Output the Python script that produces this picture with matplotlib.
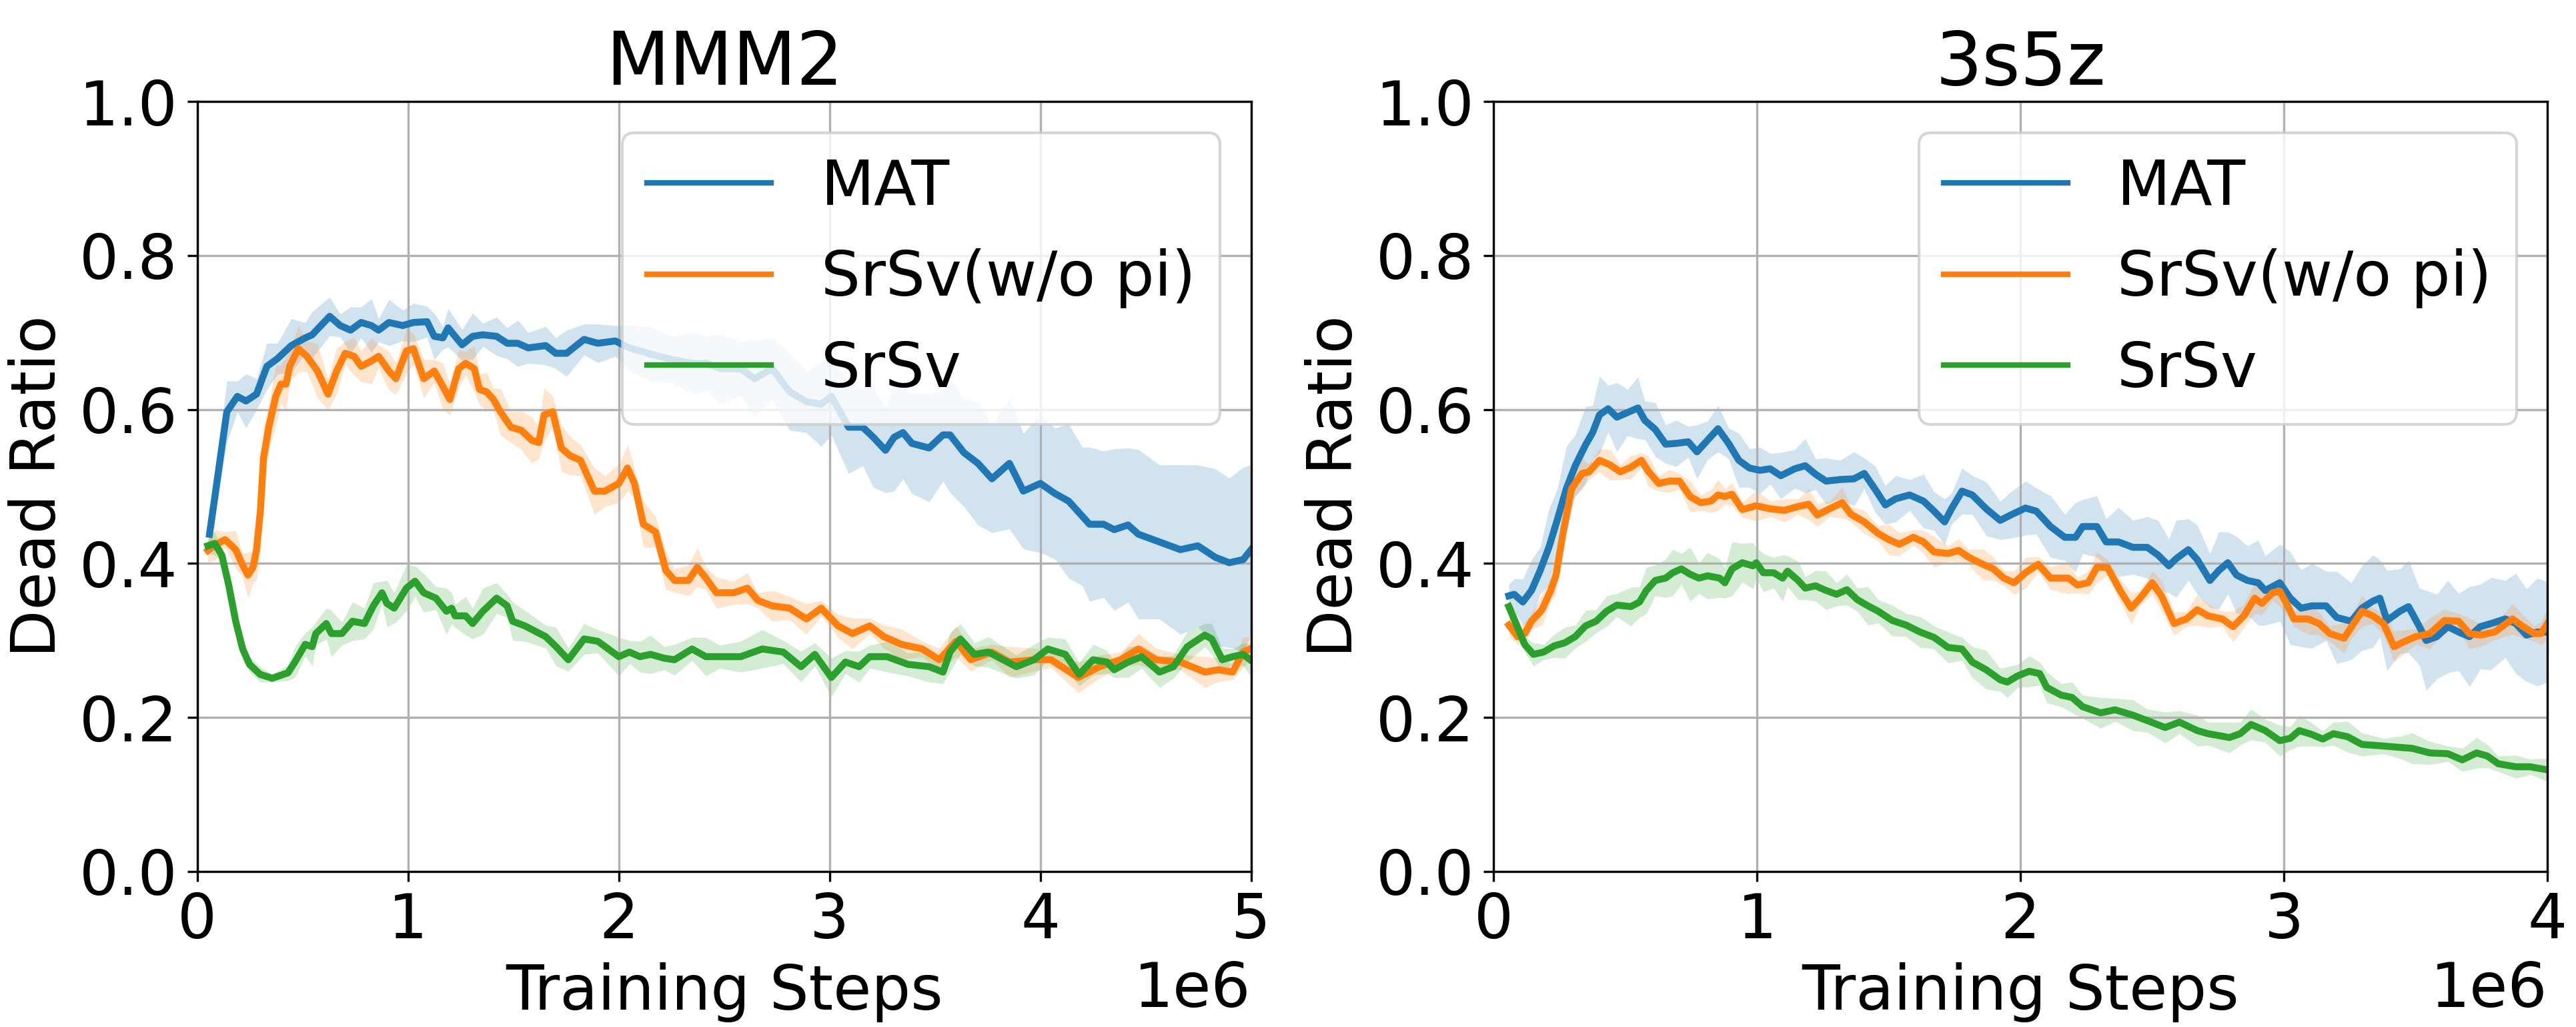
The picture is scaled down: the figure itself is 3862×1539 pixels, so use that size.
import numpy as np
import matplotlib
matplotlib.use("Agg")
import matplotlib.pyplot as plt

# ---- MMM2 (steps in millions) ----
mmm2_mat_x = [0.058, 0.14, 0.19, 0.231, 0.281, 0.33, 0.38, 0.446, 0.512, 0.545,
              0.628, 0.678, 0.727, 0.777, 0.826, 0.86, 0.909, 0.975, 1.025, 1.09,
              1.124, 1.165, 1.19, 1.256, 1.306, 1.355, 1.42, 1.47, 1.52, 1.57,
              1.653, 1.70, 1.752, 1.835, 1.90, 1.983, 2.05, 2.15, 2.25, 2.35,
              2.42, 2.478, 2.578, 2.644, 2.727, 2.81, 2.89, 2.96, 3.008, 3.09,
              3.157, 3.207, 3.265, 3.306, 3.348, 3.39, 3.472, 3.538, 3.571, 3.637,
              3.704, 3.77, 3.853, 3.919, 4.0, 4.068, 4.134, 4.2, 4.233, 4.3,
              4.35, 4.416, 4.465, 4.565, 4.664, 4.747, 4.83, 4.896, 4.962, 5.0]
mmm2_mat_y = [0.438, 0.597, 0.617, 0.611, 0.62, 0.656, 0.666, 0.683, 0.693, 0.697,
              0.721, 0.709, 0.703, 0.713, 0.709, 0.703, 0.713, 0.709, 0.713, 0.714,
              0.695, 0.693, 0.706, 0.684, 0.695, 0.697, 0.695, 0.686, 0.686, 0.68,
              0.683, 0.673, 0.673, 0.691, 0.686, 0.689, 0.68, 0.672, 0.665, 0.66,
              0.66, 0.653, 0.653, 0.64, 0.653, 0.623, 0.61, 0.607, 0.617, 0.577,
              0.577, 0.564, 0.547, 0.564, 0.57, 0.556, 0.55, 0.567, 0.567, 0.544,
              0.53, 0.51, 0.53, 0.494, 0.504, 0.491, 0.481, 0.461, 0.451, 0.451,
              0.444, 0.45, 0.438, 0.428, 0.418, 0.423, 0.408, 0.401, 0.405, 0.418]
mmm2_mat_sd = [0.02, 0.04, 0.02, 0.035, 0.02, 0.03, 0.02, 0.035, 0.02, 0.03,
               0.025, 0.015, 0.03, 0.02, 0.035, 0.015, 0.03, 0.02, 0.025, 0.02,
               0.03, 0.015, 0.025, 0.02, 0.03, 0.015, 0.025, 0.02, 0.03, 0.02,
               0.025, 0.02, 0.03, 0.02, 0.025, 0.02, 0.03, 0.035, 0.03, 0.04,
               0.035, 0.045, 0.035, 0.05, 0.04, 0.05, 0.04, 0.055, 0.05, 0.06,
               0.05, 0.065, 0.055, 0.07, 0.06, 0.065, 0.07, 0.06, 0.075, 0.07,
               0.08, 0.07, 0.085, 0.075, 0.09, 0.085, 0.1, 0.09, 0.1, 0.095,
               0.105, 0.1, 0.11, 0.1, 0.11, 0.105, 0.115, 0.11, 0.12, 0.11]

mmm2_nopi_x = [0.05, 0.083, 0.132, 0.182, 0.215, 0.24, 0.264, 0.281, 0.3, 0.314,
               0.339, 0.372, 0.397, 0.421, 0.438, 0.479, 0.52, 0.57, 0.62, 0.661,
               0.702, 0.744, 0.777, 0.826, 0.86, 0.909, 0.942, 0.992, 1.025, 1.074,
               1.124, 1.165, 1.198, 1.24, 1.273, 1.314, 1.339, 1.372, 1.405, 1.438,
               1.488, 1.537, 1.587, 1.62, 1.645, 1.686, 1.727, 1.769, 1.818, 1.884,
               1.934, 2.0, 2.041, 2.074, 2.116, 2.174, 2.223, 2.264, 2.33, 2.372,
               2.413, 2.463, 2.545, 2.61, 2.66, 2.727, 2.81, 2.89, 2.96, 3.04,
               3.108, 3.19, 3.257, 3.34, 3.44, 3.52, 3.6, 3.67, 3.77, 3.853,
               3.969, 4.05, 4.18, 4.28, 4.38, 4.465, 4.548, 4.664, 4.78, 4.846,
               4.912, 4.962, 4.995]
mmm2_nopi_y = [0.417, 0.424, 0.431, 0.418, 0.398, 0.385, 0.395, 0.418, 0.471, 0.537,
               0.577, 0.617, 0.633, 0.633, 0.656, 0.679, 0.669, 0.65, 0.62, 0.65,
               0.673, 0.669, 0.656, 0.663, 0.669, 0.65, 0.64, 0.676, 0.679, 0.64,
               0.65, 0.63, 0.613, 0.653, 0.66, 0.653, 0.626, 0.623, 0.613, 0.597,
               0.577, 0.573, 0.56, 0.557, 0.593, 0.597, 0.55, 0.54, 0.534, 0.494,
               0.494, 0.504, 0.524, 0.504, 0.451, 0.441, 0.391, 0.378, 0.378, 0.395,
               0.381, 0.362, 0.362, 0.368, 0.352, 0.345, 0.342, 0.328, 0.342, 0.319,
               0.309, 0.319, 0.305, 0.295, 0.289, 0.275, 0.299, 0.275, 0.285, 0.272,
               0.275, 0.275, 0.252, 0.266, 0.275, 0.289, 0.275, 0.272, 0.259, 0.262,
               0.259, 0.285, 0.289]
mmm2_nopi_sd = [0.015, 0.02, 0.01, 0.025, 0.015, 0.03, 0.02, 0.04, 0.05, 0.04,
                0.03, 0.04, 0.025, 0.035, 0.02, 0.03, 0.02, 0.035, 0.02, 0.03,
                0.015, 0.025, 0.02, 0.03, 0.015, 0.025, 0.02, 0.03, 0.02, 0.025,
                0.015, 0.03, 0.02, 0.025, 0.015, 0.03, 0.02, 0.025, 0.015, 0.03,
                0.02, 0.025, 0.03, 0.02, 0.035, 0.02, 0.03, 0.025, 0.02, 0.03,
                0.02, 0.025, 0.03, 0.02, 0.03, 0.02, 0.025, 0.015, 0.02, 0.025,
                0.015, 0.02, 0.015, 0.02, 0.01, 0.02, 0.015, 0.02, 0.01, 0.015,
                0.02, 0.01, 0.015, 0.02, 0.01, 0.015, 0.02, 0.015, 0.01, 0.02,
                0.015, 0.01, 0.02, 0.015, 0.01, 0.02, 0.015, 0.01, 0.02, 0.015,
                0.01, 0.02, 0.015]

mmm2_srsv_x = [0.05, 0.083, 0.116, 0.149, 0.182, 0.215, 0.248, 0.298, 0.355, 0.43,
               0.463, 0.512, 0.545, 0.562, 0.612, 0.636, 0.686, 0.736, 0.793, 0.835,
               0.876, 0.9, 0.934, 0.992, 1.033, 1.074, 1.132, 1.182, 1.207, 1.223,
               1.273, 1.306, 1.355, 1.42, 1.47, 1.496, 1.554, 1.653, 1.702, 1.76,
               1.835, 1.9, 2.0, 2.05, 2.1, 2.15, 2.215, 2.264, 2.347, 2.413,
               2.478, 2.578, 2.68, 2.78, 2.864, 2.93, 3.008, 3.075, 3.14, 3.19,
               3.273, 3.372, 3.472, 3.538, 3.571, 3.62, 3.687, 3.753, 3.886, 3.969,
               4.035, 4.118, 4.184, 4.25, 4.316, 4.35, 4.416, 4.48, 4.565, 4.631,
               4.697, 4.78, 4.813, 4.863, 4.912, 4.962, 4.995]
mmm2_srsv_y = [0.423, 0.426, 0.411, 0.372, 0.325, 0.289, 0.269, 0.256, 0.251, 0.258,
               0.272, 0.295, 0.292, 0.309, 0.322, 0.309, 0.309, 0.325, 0.322, 0.345,
               0.362, 0.348, 0.342, 0.368, 0.377, 0.362, 0.355, 0.338, 0.342, 0.332,
               0.332, 0.322, 0.338, 0.355, 0.345, 0.325, 0.319, 0.305, 0.292, 0.275,
               0.302, 0.299, 0.279, 0.285, 0.279, 0.282, 0.277, 0.275, 0.289, 0.279,
               0.279, 0.279, 0.289, 0.285, 0.266, 0.282, 0.252, 0.272, 0.266, 0.279,
               0.279, 0.269, 0.266, 0.259, 0.285, 0.302, 0.282, 0.285, 0.266, 0.275,
               0.289, 0.282, 0.256, 0.275, 0.272, 0.262, 0.272, 0.279, 0.259, 0.266,
               0.292, 0.307, 0.302, 0.275, 0.279, 0.282, 0.275]
mmm2_srsv_sd = [0.01, 0.015, 0.01, 0.015, 0.01, 0.015, 0.01, 0.01, 0.005, 0.01,
                0.02, 0.015, 0.025, 0.015, 0.02, 0.03, 0.015, 0.025, 0.02, 0.03,
                0.015, 0.03, 0.02, 0.03, 0.02, 0.025, 0.015, 0.03, 0.02, 0.015,
                0.025, 0.02, 0.03, 0.02, 0.015, 0.025, 0.02, 0.015, 0.025, 0.015,
                0.02, 0.015, 0.025, 0.015, 0.02, 0.025, 0.015, 0.02, 0.015, 0.025,
                0.015, 0.02, 0.025, 0.015, 0.02, 0.015, 0.025, 0.015, 0.02, 0.015,
                0.02, 0.015, 0.02, 0.015, 0.025, 0.02, 0.015, 0.02, 0.015, 0.02,
                0.015, 0.02, 0.015, 0.02, 0.015, 0.01, 0.02, 0.015, 0.02, 0.015,
                0.02, 0.015, 0.02, 0.015, 0.01, 0.015, 0.02]

# ---- 3s5z ----
s3z5_mat_x = [0.058, 0.078, 0.111, 0.144, 0.177, 0.21, 0.243, 0.276, 0.31, 0.349,
              0.376, 0.402, 0.435, 0.468, 0.508, 0.548, 0.574, 0.614, 0.653, 0.693,
              0.739, 0.772, 0.812, 0.852, 0.892, 0.931, 0.971, 1.011, 1.05, 1.09,
              1.143, 1.183, 1.222, 1.262, 1.315, 1.368, 1.407, 1.447, 1.487, 1.526,
              1.579, 1.632, 1.672, 1.712, 1.738, 1.778, 1.817, 1.87, 1.923, 1.963,
              2.019, 2.06, 2.114, 2.168, 2.209, 2.236, 2.29, 2.325, 2.372, 2.427,
              2.481, 2.522, 2.563, 2.59, 2.637, 2.671, 2.719, 2.753, 2.787, 2.82,
              2.861, 2.902, 2.929, 2.984, 3.024, 3.065, 3.106, 3.16, 3.2, 3.255,
              3.296, 3.337, 3.364, 3.391, 3.44, 3.473, 3.514, 3.54, 3.58, 3.622,
              3.663, 3.704, 3.745, 3.786, 3.84, 3.88, 3.92, 3.962, 4.0]
s3z5_mat_y = [0.358, 0.36, 0.35, 0.365, 0.391, 0.421, 0.458, 0.497, 0.527, 0.554,
              0.57, 0.593, 0.601, 0.59, 0.596, 0.602, 0.586, 0.574, 0.555, 0.556,
              0.558, 0.545, 0.56, 0.575, 0.556, 0.534, 0.524, 0.521, 0.523, 0.514,
              0.523, 0.527, 0.516, 0.507, 0.509, 0.51, 0.517, 0.497, 0.476, 0.484,
              0.489, 0.481, 0.468, 0.454, 0.471, 0.494, 0.489, 0.471, 0.456, 0.463,
              0.472, 0.468, 0.448, 0.434, 0.434, 0.448, 0.448, 0.428, 0.428, 0.421,
              0.421, 0.411, 0.397, 0.406, 0.418, 0.405, 0.378, 0.391, 0.401, 0.385,
              0.378, 0.375, 0.365, 0.375, 0.355, 0.342, 0.345, 0.345, 0.33, 0.325,
              0.342, 0.351, 0.355, 0.326, 0.338, 0.344, 0.318, 0.3, 0.305, 0.318,
              0.311, 0.305, 0.318, 0.322, 0.328, 0.322, 0.307, 0.311, 0.311]
s3z5_mat_sd = [0.015, 0.02, 0.03, 0.04, 0.03, 0.05, 0.04, 0.055, 0.04, 0.05,
               0.035, 0.05, 0.03, 0.045, 0.03, 0.04, 0.025, 0.035, 0.025, 0.03,
               0.02, 0.035, 0.025, 0.03, 0.02, 0.035, 0.025, 0.03, 0.02, 0.03,
               0.025, 0.035, 0.02, 0.03, 0.025, 0.035, 0.02, 0.03, 0.025, 0.03,
               0.02, 0.035, 0.025, 0.03, 0.02, 0.03, 0.025, 0.035, 0.025, 0.03,
               0.035, 0.03, 0.04, 0.03, 0.045, 0.035, 0.04, 0.03, 0.045, 0.035,
               0.04, 0.045, 0.035, 0.05, 0.04, 0.045, 0.035, 0.05, 0.04, 0.05,
               0.045, 0.055, 0.045, 0.05, 0.06, 0.05, 0.055, 0.045, 0.06, 0.05,
               0.055, 0.06, 0.05, 0.065, 0.055, 0.06, 0.05, 0.065, 0.055, 0.06,
               0.05, 0.065, 0.055, 0.06, 0.05, 0.065, 0.06, 0.07, 0.065]

s3z5_nopi_x = [0.058, 0.091, 0.118, 0.144, 0.184, 0.217, 0.237, 0.263, 0.296, 0.336,
               0.362, 0.402, 0.442, 0.481, 0.521, 0.561, 0.587, 0.627, 0.667, 0.706,
               0.746, 0.786, 0.825, 0.852, 0.878, 0.905, 0.944, 0.997, 1.05, 1.103,
               1.156, 1.196, 1.229, 1.275, 1.323, 1.356, 1.407, 1.46, 1.5, 1.54,
               1.593, 1.632, 1.672, 1.725, 1.765, 1.804, 1.857, 1.897, 1.937, 1.976,
               2.019, 2.067, 2.114, 2.182, 2.216, 2.257, 2.29, 2.33, 2.378, 2.42,
               2.454, 2.5, 2.535, 2.583, 2.63, 2.671, 2.712, 2.766, 2.807, 2.848,
               2.889, 2.916, 2.957, 2.984, 3.01, 3.038, 3.092, 3.133, 3.174, 3.228,
               3.255, 3.296, 3.337, 3.378, 3.418, 3.459, 3.5, 3.554, 3.609, 3.663,
               3.704, 3.745, 3.8, 3.867, 3.908, 3.95, 3.976, 4.0]
s3z5_nopi_y = [0.32, 0.305, 0.309, 0.325, 0.34, 0.365, 0.385, 0.438, 0.497, 0.517,
               0.519, 0.534, 0.528, 0.519, 0.525, 0.534, 0.52, 0.504, 0.507, 0.507,
               0.487, 0.479, 0.481, 0.489, 0.487, 0.49, 0.47, 0.475, 0.471, 0.469,
               0.474, 0.477, 0.463, 0.471, 0.479, 0.464, 0.454, 0.439, 0.431, 0.425,
               0.434, 0.428, 0.415, 0.413, 0.417, 0.408, 0.399, 0.393, 0.381, 0.375,
               0.388, 0.399, 0.381, 0.381, 0.372, 0.375, 0.395, 0.395, 0.365, 0.342,
               0.355, 0.375, 0.358, 0.322, 0.328, 0.34, 0.332, 0.328, 0.318, 0.332,
               0.355, 0.348, 0.362, 0.364, 0.348, 0.328, 0.328, 0.322, 0.309, 0.303,
               0.317, 0.338, 0.332, 0.322, 0.292, 0.299, 0.305, 0.309, 0.326, 0.325,
               0.309, 0.307, 0.311, 0.328, 0.318, 0.309, 0.309, 0.322]
s3z5_nopi_sd = [0.015, 0.01, 0.015, 0.01, 0.02, 0.015, 0.025, 0.02, 0.015, 0.02,
                0.01, 0.015, 0.02, 0.01, 0.015, 0.01, 0.02, 0.01, 0.015, 0.01,
                0.02, 0.01, 0.015, 0.02, 0.01, 0.015, 0.01, 0.02, 0.01, 0.015,
                0.01, 0.02, 0.015, 0.01, 0.02, 0.01, 0.015, 0.01, 0.02, 0.015,
                0.01, 0.015, 0.02, 0.01, 0.015, 0.01, 0.02, 0.015, 0.01, 0.015,
                0.02, 0.01, 0.015, 0.02, 0.01, 0.015, 0.02, 0.01, 0.015, 0.02,
                0.01, 0.015, 0.02, 0.015, 0.01, 0.02, 0.015, 0.01, 0.02, 0.015,
                0.02, 0.015, 0.01, 0.02, 0.015, 0.01, 0.02, 0.015, 0.01, 0.02,
                0.015, 0.02, 0.01, 0.015, 0.02, 0.015, 0.01, 0.02, 0.015, 0.01,
                0.02, 0.015, 0.01, 0.02, 0.015, 0.01, 0.015, 0.02]

s3z5_srsv_x = [0.058, 0.085, 0.118, 0.151, 0.19, 0.23, 0.27, 0.31, 0.349, 0.389,
               0.429, 0.468, 0.521, 0.554, 0.58, 0.614, 0.653, 0.68, 0.713, 0.746,
               0.779, 0.812, 0.858, 0.878, 0.905, 0.944, 0.984, 0.997, 1.024, 1.063,
               1.097, 1.116, 1.156, 1.183, 1.222, 1.262, 1.302, 1.341, 1.381, 1.421,
               1.46, 1.513, 1.566, 1.619, 1.672, 1.725, 1.778, 1.817, 1.87, 1.923,
               1.95, 1.989, 2.033, 2.073, 2.1, 2.155, 2.196, 2.236, 2.304, 2.359,
               2.427, 2.481, 2.549, 2.603, 2.671, 2.712, 2.793, 2.834, 2.875, 2.929,
               2.984, 3.024, 3.058, 3.106, 3.147, 3.188, 3.242, 3.296, 3.378, 3.446,
               3.486, 3.554, 3.622, 3.677, 3.731, 3.772, 3.813, 3.88, 3.935, 4.0]
s3z5_srsv_y = [0.344, 0.322, 0.295, 0.282, 0.285, 0.293, 0.297, 0.305, 0.319, 0.325,
               0.338, 0.346, 0.344, 0.35, 0.365, 0.378, 0.381, 0.388, 0.393, 0.386,
               0.381, 0.384, 0.381, 0.375, 0.393, 0.401, 0.397, 0.401, 0.388, 0.388,
               0.381, 0.39, 0.378, 0.368, 0.371, 0.365, 0.36, 0.366, 0.353, 0.345,
               0.338, 0.326, 0.32, 0.311, 0.304, 0.291, 0.289, 0.272, 0.262, 0.249,
               0.246, 0.254, 0.26, 0.257, 0.239, 0.229, 0.226, 0.214, 0.206, 0.21,
               0.203, 0.196, 0.187, 0.194, 0.183, 0.179, 0.174, 0.179, 0.191, 0.183,
               0.17, 0.173, 0.183, 0.178, 0.172, 0.179, 0.175, 0.165, 0.163, 0.161,
               0.16, 0.154, 0.153, 0.145, 0.154, 0.15, 0.14, 0.136, 0.136, 0.132]
s3z5_srsv_sd = [0.01, 0.015, 0.01, 0.015, 0.01, 0.015, 0.02, 0.015, 0.02, 0.015,
                0.02, 0.015, 0.025, 0.02, 0.03, 0.02, 0.025, 0.03, 0.02, 0.035,
                0.02, 0.03, 0.025, 0.02, 0.035, 0.025, 0.03, 0.02, 0.025, 0.02,
                0.03, 0.02, 0.025, 0.015, 0.02, 0.025, 0.015, 0.02, 0.015, 0.025,
                0.015, 0.02, 0.015, 0.02, 0.015, 0.02, 0.015, 0.02, 0.025, 0.015,
                0.02, 0.015, 0.02, 0.015, 0.02, 0.015, 0.02, 0.015, 0.02, 0.015,
                0.02, 0.015, 0.02, 0.015, 0.02, 0.015, 0.02, 0.015, 0.02, 0.015,
                0.02, 0.015, 0.02, 0.015, 0.01, 0.015, 0.02, 0.015, 0.01, 0.015,
                0.02, 0.015, 0.01, 0.015, 0.02, 0.015, 0.01, 0.015, 0.01, 0.015]

labels = ["MAT", "SrSv(w/o pi)", "SrSv"]
colors = ["#1f77b4", "#ff7f0e", "#2ca02c"]

panels = [
    ("MMM2", 5e6, [(mmm2_mat_x, mmm2_mat_y, mmm2_mat_sd),
                   (mmm2_nopi_x, mmm2_nopi_y, mmm2_nopi_sd),
                   (mmm2_srsv_x, mmm2_srsv_y, mmm2_srsv_sd)]),
    ("3s5z", 4e6, [(s3z5_mat_x, s3z5_mat_y, s3z5_mat_sd),
                   (s3z5_nopi_x, s3z5_nopi_y, s3z5_nopi_sd),
                   (s3z5_srsv_x, s3z5_srsv_y, s3z5_srsv_sd)]),
]

fs = 22.3
fig = plt.figure(figsize=(3862 / 300, 1539 / 300), dpi=300)
lefts = [0.0766, 0.5798]

for left, (title, xmax, series) in zip(lefts, panels):
    ax = fig.add_axes([left, 0.1514, 0.4091, 0.7498])
    for (x, y, sd), lab, col in zip(series, labels, colors):
        x = np.array(x) * 1e6
        y = np.array(y)
        sd = np.array(sd)
        ax.fill_between(x, y - sd, y + sd, color=col, alpha=0.2, lw=0)
        ax.plot(x, y, color=col, lw=2.5, label=lab)
    ax.set_xlim(0, xmax)
    ax.set_ylim(0, 1.0)
    ax.grid(True)
    ax.set_title(title, fontsize=26.5)
    ax.set_xlabel("Training Steps", fontsize=fs)
    ax.set_ylabel("Dead Ratio", fontsize=fs)
    ax.tick_params(labelsize=fs)
    ax.xaxis.get_offset_text().set_fontsize(fs)
    leg = ax.legend(loc="upper right", fontsize=fs)
    for h in leg.get_lines():
        h.set_linewidth(2.0)

fig.savefig("out.png", dpi=300)
